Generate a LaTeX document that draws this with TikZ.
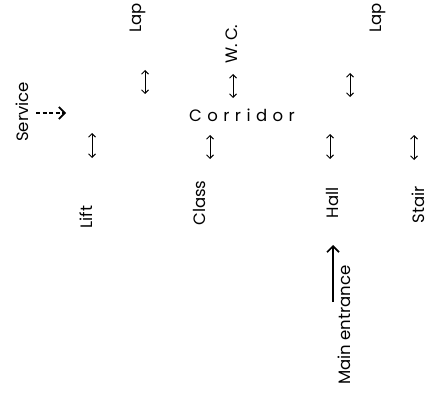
\documentclass[tikz,border=0pt]{standalone}
\usepackage{fontspec}
\setmainfont{Poppins}
\usetikzlibrary{arrows.meta}
\begin{document}
\begin{tikzpicture}[x=1pt,y=-1pt,
  room/.style={font=\fontsize{16.5}{19}\selectfont, rotate=90, inner sep=0pt},
  hall/.style={font=\fontsize{16.5}{19}\selectfont\addfontfeature{LetterSpace=33}, inner sep=0pt},
  link/.style={{Straight Barb[length=3.5pt,width=7pt]}-{Straight Barb[length=3.5pt,width=7pt]}, line width=1pt},
  entry/.style={-{Straight Barb[length=6pt,width=12pt]}, line width=1.7pt},
  service/.style={entry, dashed, dash pattern=on 4pt off 2.5pt}]
\useasboundingbox (0,0) rectangle (438,401);
\fill[white] (0,0) rectangle (438,401);

% rooms
\node[room] (lapL) at (138,18) {Lap};
\node[room] (lapR) at (378,18) {Lap};
\node[room] (wc) at (232,44) {W.\,C.};
\node[room] (serv) at (22,112) {Service};
\node[hall] (corr) at (242,115) {Corridor};
\node[room] (lift) at (86,217) {Lift};
\node[room] (class) at (199,203) {Class};
\node[room] (hallroom) at (332,203) {Hall};
\node[room] (stair) at (418,205) {Stair};
\node[room] (main) at (344,325) {Main entrance};

% two-way links
\coordinate (a1) at (145,70);  \coordinate (a2) at (145,94);
\coordinate (b1) at (233,74);  \coordinate (b2) at (233,98);
\coordinate (c1) at (350,73);  \coordinate (c2) at (350,97);
\coordinate (d1) at (92,133);  \coordinate (d2) at (92,158);
\coordinate (e1) at (210,135); \coordinate (e2) at (210,159);
\coordinate (f1) at (330,134); \coordinate (f2) at (330,159);
\coordinate (g1) at (414,135); \coordinate (g2) at (414,160);
\foreach \p in {a,b,c,d,e,f,g} \draw[link] (\p1) -- (\p2);

% entries
\coordinate (s1) at (36,113); \coordinate (s2) at (66,113);
\draw[service] (s1) -- (s2);
\coordinate (m1) at (333,302); \coordinate (m2) at (333,245);
\draw[entry] (m1) -- (m2);
\end{tikzpicture}
\end{document}
